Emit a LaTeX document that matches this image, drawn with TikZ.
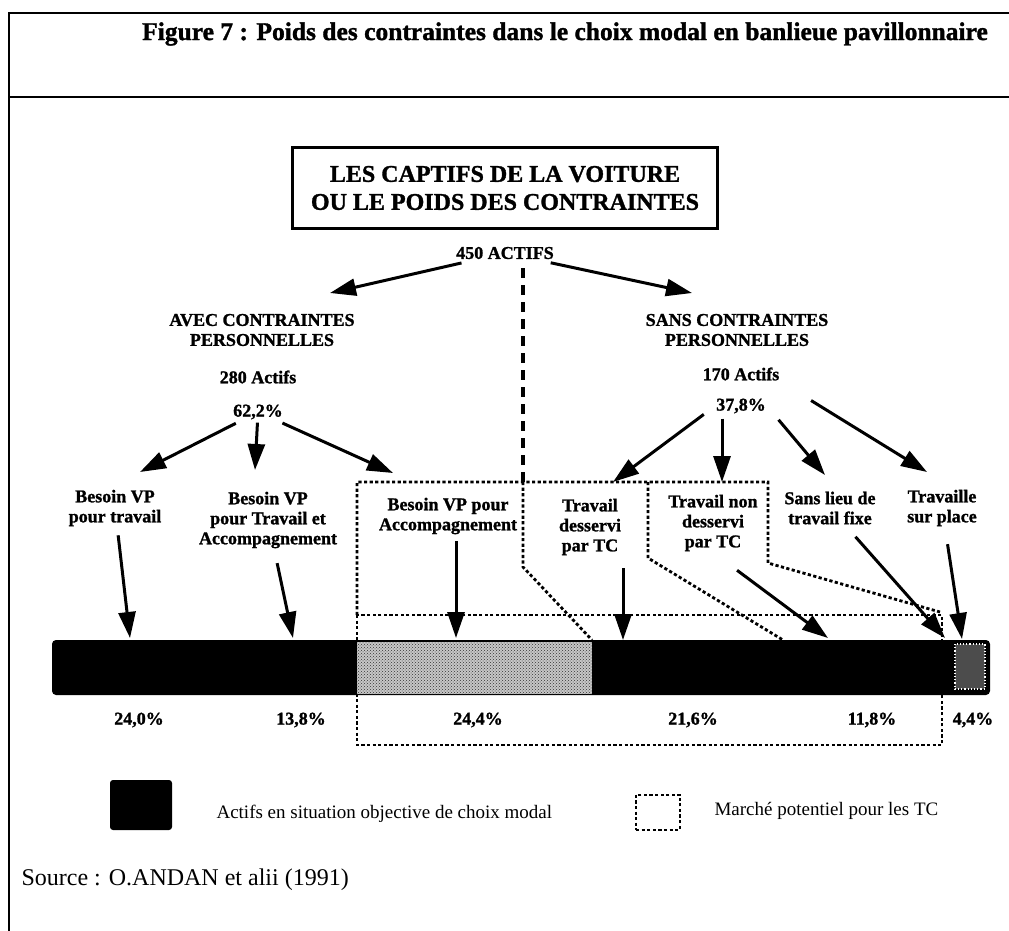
\documentclass[tikz,border=0pt]{standalone}
\usepackage{fontspec}
\setmainfont{Liberation Serif}[BoldFeatures={FakeBold=1.3}]
\usetikzlibrary{arrows.meta,positioning,calc,patterns}

\tikzset{
  lbl/.style={font=\fontsize{18}{20}\selectfont\bfseries, align=center, inner sep=1pt},
  arr/.style={-{Triangle[length=26pt,width=17pt]}, line width=3pt},
  mkt/.style={line width=2.8pt, dash pattern=on 3.2pt off 2.4pt},
  split/.style={line width=3.5pt, dash pattern=on 10pt off 7pt},
  frame/.style={line width=2.5pt},
}

\begin{document}
\begin{tikzpicture}[x=1pt,y=1pt]
\useasboundingbox (0,0) rectangle (1009,-931);
% frame and title
\draw[frame] (1009,-13) -- (9,-13) -- (9,-931);
\draw[frame] (9,-97) -- (1009,-97);
\node[font=\fontsize{25.5}{28}\selectfont\bfseries] (title) at (565,-34)
  {Figure 7 : Poids des contraintes dans le choix modal en banlieue pavillonnaire};

% heading box and the two groups
\node[draw, line width=2.5pt, minimum width=425pt, minimum height=81pt, align=center,
  font=\fontsize{24}{28}\selectfont\bfseries] (head) at (505,-188)
  {LES CAPTIFS DE LA VOITURE\\OU LE POIDS DES CONTRAINTES};
\node[lbl] (tot) at (505,-253) {450 ACTIFS};
\node[lbl] (avec) at (262,-330) {AVEC CONTRAINTES\\PERSONNELLES};
\node[lbl] (n280) at (258,-377) {280 Actifs};
\node[lbl] (p622) at (258,-412) {62,2\%};
\node[lbl] (sans) at (737,-330) {SANS CONTRAINTES\\PERSONNELLES};
\node[lbl] (n170) at (741,-374) {170 Actifs};
\node[lbl] (p378) at (741,-406) {37,8\%};

% second level
\node[lbl] (bvt)  at (115,-508) {Besoin VP\\pour travail};
\node[lbl] (bvta) at (268,-520) {Besoin VP\\pour Travail et\\Accompagnement};
\node[lbl] (bva)  at (448,-516) {Besoin VP pour\\Accompagnement};
\node[lbl] (tdt)  at (590,-527) {Travail\\desservi\\par TC};
\node[lbl] (tnd)  at (713,-523) {Travail non\\desservi\\par TC};
\node[lbl] (slf)  at (830,-508) {Sans lieu de\\travail fixe};
\node[lbl] (tsp)  at (942,-508) {Travaille\\sur place};

% marche potentiel (drawn under the bar)
\draw[mkt] (357,-615) rectangle (942,-745);
\draw[mkt] (357,-615) -- (357,-482) -- (768,-482) -- (768,-563) -- (940,-612);
\draw[mkt] (523,-482) -- (523,-567) -- (592,-640);
\draw[mkt] (648,-482) -- (648,-558) -- (783,-640);
\draw[split] ([xshift=18pt,yshift=-8pt]tot.south) -- (523,-482);

% the bar
\node[fill=black, rounded corners=4pt, minimum width=938pt, minimum height=55pt,
  inner sep=0pt] (bar) at (521,-667.5) {};
\fill[black!22] (357,-642) rectangle (592,-694);
\fill[pattern=crosshatch dots, pattern color=black!80] (357,-642) rectangle (592,-694);
\draw[white, line width=1.2pt, dotted, fill=black!70] (955,-644) rectangle (985,-689);

% arrow tips
\coordinate (ta) at (330,-293);
\coordinate (ts) at (692,-293);
\coordinate (b1) at (140,-472);
\coordinate (b2) at (255,-470);
\coordinate (b3) at (393,-473);
\coordinate (c1) at (613,-482);
\coordinate (c2) at (722,-482);
\coordinate (c3) at (825,-475);
\coordinate (c4) at (927,-472);
\coordinate (h1) at (130,-638);
\coordinate (h2) at (293,-638);
\coordinate (h3) at (456,-638);
\coordinate (h4) at (623,-640);
\coordinate (h5) at (828,-638);
\coordinate (h6) at (945,-638);
\coordinate (h7) at (962,-639);

\draw[arr, shorten <=12pt] (tot) -- (ta);
\draw[arr, shorten <=12pt] (tot) -- (ts);
\draw[arr, shorten <=6pt] (p622) -- (b1);
\draw[arr, shorten <=2pt] (p622) -- (b2);
\draw[arr, shorten <=6pt] (p622) -- (b3);
\draw[arr, shorten <=14pt] (p378.west) -- (c1);
\draw[arr, shorten <=4pt] (p378.south -| c2) -- (c2);
\draw[arr, shorten <=18pt] (p378.east) -- (c3);
\draw[arr, shorten <=36pt] (n170.south east) -- (c4);

\draw[arr, shorten <=8pt] (bvt) -- (h1);
\draw[arr, shorten <=14pt] (bvta) -- (h2);
\draw[arr, shorten <=6pt] (bva.south -| h3) -- (h3);
\draw[arr, shorten <=12pt] (tdt.south -| h4) -- (h4);
\draw[arr, shorten <=30pt] (tnd.south) -- (h5);
\draw[arr, shorten <=15pt] (slf) -- (h6);
\draw[arr, shorten <=17pt] (tsp) -- (h7);

% shares
\foreach \x/\t [count=\i] in {139/{24,0\%},301/{13,8\%},478/{24,4\%},693/{21,6\%},872/{11,8\%},973/{4,4\%}}
  \node[lbl] (pc\i) at (\x,-720) {\t};

% legend
\node[fill=black, rounded corners=3pt, minimum width=62pt, minimum height=50pt,
  inner sep=0pt] (keyb) at (141,-805) {};
\node[font=\fontsize{19}{21}\selectfont, anchor=west] (keybt) at (213,-814) {Actifs en situation objective de choix modal};
\node[draw, mkt, line width=2pt, minimum width=44pt, minimum height=35pt,
  inner sep=0pt] (keym) at (658,-812) {};
\node[font=\fontsize{19}{21}\selectfont, anchor=west] (keymt) at (711,-811) {Marché potentiel pour les TC};

\node[font=\fontsize{24}{26}\selectfont, anchor=west] (src) at (18,-880) {Source : O.ANDAN et alii (1991)};
\end{tikzpicture}
\end{document}
